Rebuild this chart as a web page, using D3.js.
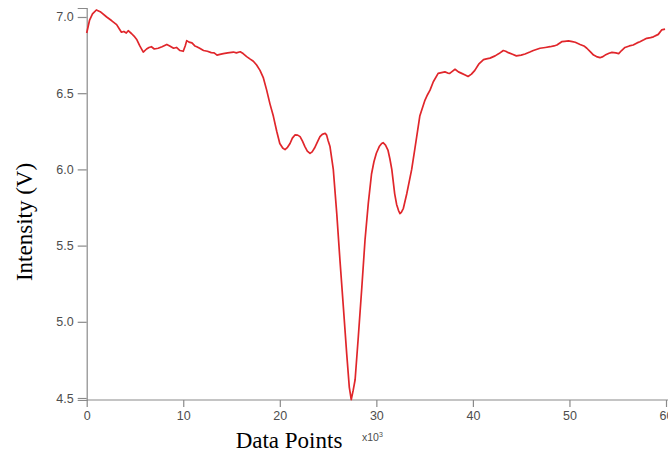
<!DOCTYPE html>
<html>
<head>
<meta charset="utf-8">
<script src="https://cdn.jsdelivr.net/npm/d3@7"></script>
<style>
  body { margin: 0; background: #fff; }
  svg { display: block; }
</style>
</head>
<body>
<div id="chart"></div>
<script>
// data points, in thousands (x10^3)
const pointIdx = [
  0.0, 0.3, 0.6, 1.0, 1.4, 2.07, 2.6, 3.1, 3.4, 3.6, 3.85, 4.1, 4.3, 4.66, 4.9, 5.2, 5.5, 5.86,
  6.2, 6.45, 6.7, 7.0, 7.4, 7.8, 8.3, 8.6, 9.0, 9.3, 9.66, 10.0, 10.2, 10.36, 10.6, 10.9, 11.2,
  11.4, 11.7, 12.1, 12.5, 12.9, 13.2, 13.5, 13.8, 14.15, 14.6, 15.2, 15.5, 15.9, 16.2, 16.57,
  16.9, 17.26, 17.6, 17.95, 18.3, 18.64, 18.98, 19.33, 19.68, 20.0, 20.3, 20.54, 20.8, 21.06,
  21.3, 21.57, 21.85, 22.1, 22.35, 22.6, 22.85, 23.13, 23.35, 23.6, 23.9, 24.16, 24.4, 24.7,
  24.85, 25.0, 25.2, 25.54, 25.9, 26.23, 26.58, 26.93, 27.2, 27.4, 27.6, 27.8, 28.13, 28.5,
  28.83, 29.17, 29.5, 29.75, 30.0, 30.3, 30.55, 30.7, 30.95, 31.2, 31.4, 31.6, 31.9, 32.1,
  32.3, 32.45, 32.6, 32.8, 33.15, 33.66, 34.0, 34.18, 34.5, 35.04, 35.3, 35.56, 35.9, 36.4,
  36.75, 37.1, 37.4, 37.6, 37.9, 38.15, 38.5, 38.84, 39.2, 39.5, 39.85, 40.2, 40.6, 41.1,
  41.4, 41.77, 42.3, 42.7, 43.15, 43.4, 43.67, 44.1, 44.5, 45.0, 45.4, 45.9, 46.26, 46.95,
  47.5, 48.0, 48.4, 48.7, 49.2, 49.5, 49.9, 50.3, 50.6, 51.1, 51.5, 51.8, 52.2, 52.5, 52.8,
  53.16, 53.4, 53.7, 54.1, 54.4, 54.8, 55.1, 55.4, 55.75, 56.2, 56.6, 57.0, 57.3, 57.7, 58.0,
  58.4, 58.7, 59.2, 59.55, 59.9
];

// intensity in volts
const intensity = [
  6.895, 6.98, 7.02, 7.046, 7.035, 7.0, 6.975, 6.95, 6.92, 6.90, 6.905, 6.895, 6.91, 6.89, 6.875, 6.85, 6.81, 6.77,
  6.79, 6.80, 6.805, 6.79, 6.795, 6.805, 6.82, 6.81, 6.795, 6.80, 6.78, 6.775, 6.81, 6.845, 6.835, 6.83, 6.81,
  6.805, 6.795, 6.78, 6.775, 6.766, 6.765, 6.75, 6.755, 6.76, 6.765, 6.77, 6.765, 6.772, 6.76, 6.74,
  6.725, 6.71, 6.685, 6.65, 6.60, 6.52, 6.43, 6.35, 6.25, 6.17, 6.14, 6.13, 6.145, 6.17,
  6.205, 6.226, 6.225, 6.215, 6.185, 6.15, 6.12, 6.105, 6.115, 6.14, 6.18, 6.215, 6.23, 6.237,
  6.225, 6.19, 6.15, 6.0, 5.71, 5.405, 5.10, 4.79, 4.57, 4.49, 4.55, 4.62, 4.90, 5.23,
  5.54, 5.78, 5.97, 6.05, 6.106, 6.15, 6.17, 6.175, 6.16, 6.127, 6.07, 6.0, 5.84, 5.77,
  5.73, 5.71, 5.72, 5.745, 5.84, 6.0, 6.14, 6.215, 6.35, 6.455, 6.49, 6.52, 6.575, 6.63,
  6.635, 6.64, 6.632, 6.63, 6.645, 6.657, 6.64, 6.63, 6.62, 6.61, 6.625, 6.65, 6.69, 6.72,
  6.725, 6.73, 6.745, 6.76, 6.78, 6.775, 6.766, 6.755, 6.745, 6.75, 6.757, 6.77, 6.78, 6.795,
  6.80, 6.805, 6.81, 6.816, 6.838, 6.84, 6.843, 6.838, 6.834, 6.82, 6.81, 6.795, 6.77, 6.75, 6.74,
  6.733, 6.738, 6.75, 6.762, 6.768, 6.765, 6.76, 6.78, 6.80, 6.81, 6.816, 6.83, 6.838, 6.85, 6.86,
  6.865, 6.87, 6.886, 6.915, 6.92
];

const xTicks = [0, 10, 20, 30, 40, 50, 60];
const yTicks = [4.5, 5.0, 5.5, 6.0, 6.5, 7.0];

const width = 668;
const height = 455;

const svg = d3.select("#chart")
  .append("svg")
  .attr("width", width)
  .attr("height", height);

const x = d3.scaleLinear().domain([0, 60]).range([86.7, 666]);
const y = d3.scaleLinear().domain([4.487, 7.059]).range([400, 8]);

const axisColor = "#8a8a8a";
const labelColor = "#4d4d4d";

// y axis
const yAxis = svg.append("g")
  .attr("transform", `translate(${x(0)},0)`)
  .call(d3.axisLeft(y).tickValues(yTicks).tickFormat(d3.format(".1f")).tickSize(9).tickPadding(4));

// x axis
const xAxis = svg.append("g")
  .attr("transform", `translate(0,${y.range()[0]})`)
  .call(d3.axisBottom(x).tickValues(xTicks).tickFormat(d3.format("d")).tickSize(7).tickPadding(4));

[yAxis, xAxis].forEach(a => {
  a.select(".domain").attr("stroke", axisColor).attr("stroke-width", 1.2);
  a.selectAll(".tick line").attr("stroke", axisColor).attr("stroke-width", 1.2);
  a.selectAll(".tick text")
    .attr("fill", labelColor)
    .style("font", "12.5px 'Liberation Sans', Arial, sans-serif");
});
xAxis.select(".domain").attr("d", `M${x(0)},0H${width}`);

// signal line
const data = pointIdx.map((d, i) => ({ x: d, v: intensity[i] }));

svg.append("path")
  .datum(data)
  .attr("fill", "none")
  .attr("stroke", "#e0262b")
  .attr("stroke-width", 1.7)
  .attr("stroke-linejoin", "round")
  .attr("d", d3.line().x(d => x(d.x)).y(d => y(d.v)));

// axis titles
svg.append("text")
  .attr("x", 289)
  .attr("y", 448)
  .attr("text-anchor", "middle")
  .style("font", "23px 'Liberation Serif', 'Times New Roman', serif")
  .attr("fill", "#000")
  .text("Data Points");

svg.append("text")
  .attr("transform", "translate(32,222) rotate(-90)")
  .attr("text-anchor", "middle")
  .style("font", "23px 'Liberation Serif', 'Times New Roman', serif")
  .attr("fill", "#000")
  .text("Intensity (V)");

// multiplier label
const mult = svg.append("text")
  .attr("x", 362)
  .attr("y", 441)
  .attr("fill", labelColor)
  .style("font", "10.5px 'Liberation Sans', Arial, sans-serif")
  .text("x10");
mult.append("tspan")
  .attr("dy", -4)
  .style("font-size", "7px")
  .text("3");
</script>
</body>
</html>
